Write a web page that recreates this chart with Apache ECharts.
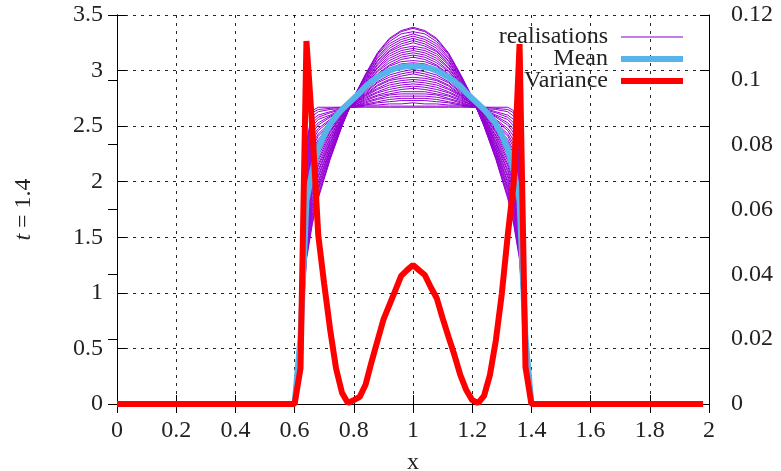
<!DOCTYPE html>
<html><head><meta charset="utf-8">
<script src="https://cdn.jsdelivr.net/npm/echarts@6/dist/echarts.min.js"></script>
<style>html,body{margin:0;padding:0;background:#fff}#c{width:781px;height:471px}</style>
</head><body><div id="c"></div>
<script>
// x positions of the realisation samples
const xReal = [0.60,0.62,0.64,0.66,0.68,0.72,0.76,0.80,0.84,0.88,0.92,0.96,1.00,1.04,1.08,1.12,1.16,1.20,1.24,1.28,1.32,1.34,1.36,1.38,1.40];
const real01 = [0,0.75,2.35,2.64,2.67,2.67,2.67,2.67,2.67,2.67,2.67,2.67,2.67,2.67,2.67,2.67,2.67,2.67,2.67,2.67,2.67,2.64,2.35,0.75,0];
const real02 = [0,0.74,2.33,2.62,2.65,2.66,2.67,2.67,2.68,2.68,2.68,2.68,2.68,2.68,2.68,2.68,2.68,2.67,2.67,2.66,2.65,2.62,2.33,0.74,0];
const real03 = [0,0.74,2.30,2.59,2.63,2.65,2.66,2.67,2.69,2.69,2.70,2.70,2.71,2.70,2.70,2.69,2.69,2.67,2.66,2.65,2.63,2.59,2.30,0.74,0];
const real04 = [0,0.73,2.27,2.56,2.60,2.63,2.66,2.68,2.69,2.71,2.72,2.73,2.73,2.73,2.72,2.71,2.69,2.68,2.66,2.63,2.60,2.56,2.27,0.73,0];
const real05 = [0,0.72,2.23,2.53,2.58,2.62,2.65,2.68,2.70,2.72,2.74,2.75,2.75,2.75,2.74,2.72,2.70,2.68,2.65,2.62,2.58,2.53,2.23,0.72,0];
const real06 = [0,0.71,2.20,2.50,2.56,2.60,2.65,2.68,2.71,2.74,2.76,2.77,2.77,2.77,2.76,2.74,2.71,2.68,2.65,2.60,2.56,2.50,2.20,0.71,0];
const real07 = [0,0.70,2.17,2.47,2.53,2.59,2.64,2.68,2.72,2.75,2.78,2.79,2.79,2.79,2.78,2.75,2.72,2.68,2.64,2.59,2.53,2.47,2.17,0.70,0];
const real08 = [0,0.69,2.14,2.44,2.51,2.58,2.64,2.69,2.73,2.77,2.79,2.81,2.81,2.81,2.79,2.77,2.73,2.69,2.64,2.58,2.51,2.44,2.14,0.69,0];
const real09 = [0,0.68,2.11,2.41,2.48,2.56,2.63,2.69,2.74,2.78,2.81,2.83,2.84,2.83,2.81,2.78,2.74,2.69,2.63,2.56,2.48,2.41,2.11,0.68,0];
const real10 = [0,0.67,2.08,2.37,2.46,2.55,2.63,2.69,2.75,2.80,2.83,2.85,2.86,2.85,2.83,2.80,2.75,2.69,2.63,2.55,2.46,2.37,2.08,0.67,0];
const real11 = [0,0.66,2.05,2.34,2.43,2.53,2.62,2.70,2.76,2.81,2.85,2.87,2.88,2.87,2.85,2.81,2.76,2.70,2.62,2.53,2.43,2.34,2.05,0.66,0];
const real12 = [0,0.65,2.01,2.31,2.41,2.52,2.62,2.70,2.77,2.83,2.87,2.89,2.90,2.89,2.87,2.83,2.77,2.70,2.62,2.52,2.41,2.31,2.01,0.65,0];
const real13 = [0,0.65,1.98,2.28,2.38,2.51,2.61,2.70,2.78,2.84,2.89,2.91,2.92,2.91,2.89,2.84,2.78,2.70,2.61,2.51,2.38,2.28,1.98,0.65,0];
const real14 = [0,0.64,1.95,2.25,2.36,2.49,2.61,2.70,2.78,2.86,2.91,2.93,2.94,2.93,2.91,2.86,2.78,2.70,2.61,2.49,2.36,2.25,1.95,0.64,0];
const real15 = [0,0.63,1.92,2.22,2.33,2.48,2.60,2.71,2.79,2.87,2.92,2.95,2.97,2.95,2.92,2.87,2.79,2.71,2.60,2.48,2.33,2.22,1.92,0.63,0];
const real16 = [0,0.62,1.89,2.19,2.31,2.46,2.60,2.71,2.80,2.89,2.94,2.97,2.99,2.97,2.94,2.89,2.80,2.71,2.60,2.46,2.31,2.19,1.89,0.62,0];
const real17 = [0,0.61,1.86,2.16,2.28,2.45,2.59,2.71,2.81,2.90,2.96,2.99,3.01,2.99,2.96,2.90,2.81,2.71,2.59,2.45,2.28,2.16,1.86,0.61,0];
const real18 = [0,0.60,1.83,2.13,2.26,2.44,2.59,2.72,2.82,2.92,2.98,3.02,3.03,3.02,2.98,2.92,2.82,2.72,2.59,2.44,2.26,2.13,1.83,0.60,0];
const real19 = [0,0.59,1.79,2.10,2.24,2.42,2.58,2.72,2.83,2.93,3.00,3.04,3.05,3.04,3.00,2.93,2.83,2.72,2.58,2.42,2.24,2.10,1.79,0.59,0];
const real20 = [0,0.58,1.76,2.07,2.21,2.41,2.57,2.72,2.84,2.94,3.02,3.06,3.07,3.06,3.02,2.94,2.84,2.72,2.57,2.41,2.21,2.07,1.76,0.58,0];
const real21 = [0,0.57,1.73,2.04,2.19,2.39,2.57,2.72,2.85,2.96,3.04,3.08,3.09,3.08,3.04,2.96,2.85,2.72,2.57,2.39,2.19,2.04,1.73,0.57,0];
const real22 = [0,0.56,1.70,2.01,2.16,2.38,2.56,2.73,2.86,2.97,3.05,3.10,3.12,3.10,3.05,2.97,2.86,2.73,2.56,2.38,2.16,2.01,1.70,0.56,0];
const real23 = [0,0.56,1.67,1.98,2.14,2.36,2.56,2.73,2.87,2.99,3.07,3.12,3.14,3.12,3.07,2.99,2.87,2.73,2.56,2.36,2.14,1.98,1.67,0.56,0];
const real24 = [0,0.55,1.64,1.95,2.11,2.35,2.55,2.73,2.87,3.00,3.09,3.14,3.16,3.14,3.09,3.00,2.87,2.73,2.55,2.35,2.11,1.95,1.64,0.55,0];
const real25 = [0,0.54,1.60,1.92,2.09,2.34,2.55,2.73,2.88,3.02,3.11,3.16,3.18,3.16,3.11,3.02,2.88,2.73,2.55,2.34,2.09,1.92,1.60,0.54,0];
const real26 = [0,0.53,1.57,1.89,2.06,2.32,2.54,2.74,2.89,3.03,3.13,3.18,3.20,3.18,3.13,3.03,2.89,2.74,2.54,2.32,2.06,1.89,1.57,0.53,0];
const real27 = [0,0.52,1.54,1.85,2.04,2.31,2.54,2.74,2.90,3.05,3.15,3.20,3.22,3.20,3.15,3.05,2.90,2.74,2.54,2.31,2.04,1.85,1.54,0.52,0];
const real28 = [0,0.51,1.51,1.82,2.01,2.29,2.53,2.74,2.91,3.06,3.17,3.22,3.25,3.22,3.17,3.06,2.91,2.74,2.53,2.29,2.01,1.82,1.51,0.51,0];
const real29 = [0,0.50,1.48,1.79,1.99,2.28,2.53,2.74,2.92,3.08,3.18,3.24,3.27,3.24,3.18,3.08,2.92,2.74,2.53,2.28,1.99,1.79,1.48,0.50,0];
const real30 = [0,0.49,1.45,1.76,1.96,2.27,2.52,2.75,2.93,3.09,3.20,3.26,3.29,3.26,3.20,3.09,2.93,2.75,2.52,2.27,1.96,1.76,1.45,0.49,0];
const real31 = [0,0.48,1.42,1.73,1.94,2.25,2.52,2.75,2.94,3.11,3.22,3.28,3.31,3.28,3.22,3.11,2.94,2.75,2.52,2.25,1.94,1.73,1.42,0.48,0];
const real32 = [0,0.47,1.38,1.70,1.92,2.24,2.51,2.75,2.95,3.12,3.24,3.30,3.33,3.30,3.24,3.12,2.95,2.75,2.51,2.24,1.92,1.70,1.38,0.47,0];
const real33 = [0,0.47,1.35,1.67,1.89,2.22,2.51,2.76,2.96,3.14,3.26,3.33,3.35,3.33,3.26,3.14,2.96,2.76,2.51,2.22,1.89,1.67,1.35,0.47,0];
const real34 = [0,0.46,1.32,1.64,1.87,2.21,2.50,2.76,2.96,3.15,3.28,3.35,3.38,3.35,3.28,3.15,2.96,2.76,2.50,2.21,1.87,1.64,1.32,0.46,0];
const real35 = [0,0.45,1.30,1.62,1.85,2.20,2.50,2.76,2.97,3.16,3.29,3.36,3.39,3.36,3.29,3.16,2.97,2.76,2.50,2.20,1.85,1.62,1.30,0.45,0];
const realisationList = [real01,real02,real03,real04,real05,real06,real07,real08,real09,real10,real11,real12,real13,real14,real15,real16,real17,real18,real19,real20,real21,real22,real23,real24,real25,real26,real27,real28,real29,real30,real31,real32,real33,real34,real35];

// x positions of mean / variance samples
const xGrid = [0,0.60,0.62,0.64,0.66,0.68,0.70,0.72,0.74,0.76,0.78,0.80,0.82,0.84,0.86,0.88,0.90,0.92,0.94,0.96,0.98,1.00,1.02,1.04,1.06,1.08,1.10,1.12,1.14,1.16,1.18,1.20,1.22,1.24,1.26,1.28,1.30,1.32,1.34,1.36,1.38,1.40,1.98];
const meanVals = [0,0,0.60,1.83,2.10,2.30,2.42,2.52,2.59,2.65,2.70,2.75,2.80,2.86,2.90,2.94,2.97,3.00,3.02,3.03,3.04,3.04,3.04,3.03,3.02,3.00,2.97,2.94,2.90,2.86,2.80,2.75,2.70,2.65,2.59,2.52,2.42,2.30,2.10,1.83,0.60,0,0];
const varVals = [0,0,0.011,0.112,0.085,0.052,0.037,0.023,0.011,0.0035,0.0003,0.0012,0.0022,0.006,0.013,0.0195,0.026,0.0305,0.035,0.0395,0.0413,0.0429,0.0413,0.0398,0.036,0.0327,0.0265,0.0207,0.0151,0.0089,0.0043,0.0012,0.0003,0.0025,0.009,0.0197,0.034,0.052,0.068,0.111,0.0114,0,0];

const FONT = 'Liberation Serif';
const TXT = '#222';

const realData = [];
realisationList.forEach(function (arr) {
  arr.forEach(function (v, i) { realData.push([xReal[i], v]); });
  realData.push([xReal[xReal.length - 1], '-']);
});
const meanData = xGrid.map(function (x, i) { return [x, meanVals[i]]; });
const varData = xGrid.map(function (x, i) { return [x, varVals[i]]; });

const gridLine = { show: true, lineStyle: { color: '#000', type: [3, 5], width: 1, opacity: 0.85 } };
const axLine = { show: true, lineStyle: { color: '#000', width: 1 } };
const lbl = { fontFamily: FONT, fontSize: 24, color: TXT };

function legend(name, top, h, color) {
  return {
    orient: 'vertical', right: 98, top: top, padding: 0, align: 'right',
    itemWidth: 62, itemHeight: h, icon: 'rect',
    data: [{ name: name, icon: 'rect', itemStyle: { color: color } }],
    textStyle: { fontFamily: FONT, fontSize: 24, color: TXT, lineHeight: 22, padding: [0, 8, 0, 0] },
    selectedMode: false
  };
}

const option = {
  animation: false,
  backgroundColor: '#fff',
  grid: { left: 117, right: 72, top: 15, bottom: 67, containLabel: false, outerBoundsMode: 'none' },
  legend: [
    legend('realisations', 25, 2, '#c07de4'),
    legend('Mean', 47, 6, '#56b4e9'),
    legend('Variance', 69, 6, '#ff0000')
  ],
  xAxis: [
    { type: 'value', min: 0, max: 2, interval: 0.2, position: 'bottom',
      name: 'x', nameLocation: 'middle', nameGap: 47,
      nameTextStyle: { fontFamily: FONT, fontSize: 24, color: TXT },
      axisLine: axLine, axisTick: { show: true, inside: true, length: 9, lineStyle: { color: '#000' } },
      axisLabel: Object.assign({ margin: 15 }, lbl), splitLine: gridLine },
    { type: 'value', min: 0, max: 2, interval: 0.2, position: 'top',
      axisLine: axLine, axisTick: { show: true, inside: true, length: 9, lineStyle: { color: '#000' } },
      axisLabel: { show: false }, splitLine: { show: false } }
  ],
  yAxis: [
    { type: 'value', min: 0, max: 3.5, interval: 0.5, position: 'left',
      name: '{i|t} = 1.4', nameLocation: 'middle', nameGap: 81, nameRotate: 90,
      nameTextStyle: { fontFamily: FONT, fontSize: 24, color: TXT,
        rich: { i: { fontFamily: FONT, fontSize: 24, fontStyle: 'italic', color: TXT } } },
      axisLine: axLine, axisTick: { show: true, inside: true, length: 9, lineStyle: { color: '#000' } },
      axisLabel: Object.assign({ margin: 14 }, lbl), splitLine: gridLine },
    { type: 'value', min: 0, max: 0.12, interval: 0.02, position: 'right',
      axisLine: axLine, axisTick: { show: true, inside: true, length: 9, lineStyle: { color: '#000' } },
      axisLabel: Object.assign({ margin: 22 }, lbl), splitLine: { show: false } },
    { type: 'value', min: 0, max: 3.5, interval: 0.5, position: 'right',
      axisLine: axLine, axisTick: { show: true, inside: true, length: 9, lineStyle: { color: '#000' } },
      axisLabel: { show: false }, splitLine: { show: false } }
  ],
  series: [
    { name: 'realisations', type: 'line', xAxisIndex: 0, yAxisIndex: 0, data: realData,
      showSymbol: false, symbol: 'none', connectNulls: false, clip: false,
      color: '#9400d3', lineStyle: { color: '#9400d3', width: 1 }, z: 2 },
    { name: 'Mean', type: 'line', xAxisIndex: 0, yAxisIndex: 0, data: meanData,
      showSymbol: false, symbol: 'none', clip: false,
      color: '#56b4e9', lineStyle: { color: '#56b4e9', width: 6 }, z: 3 },
    { name: 'Variance', type: 'line', xAxisIndex: 0, yAxisIndex: 1, data: varData,
      showSymbol: false, symbol: 'none', clip: false,
      color: '#ff0000', lineStyle: { color: '#ff0000', width: 6 }, z: 4 }
  ]
};
const chart = echarts.init(document.getElementById('c'), null, { renderer: 'canvas' });
chart.setOption(option);
</script>
</body></html>
